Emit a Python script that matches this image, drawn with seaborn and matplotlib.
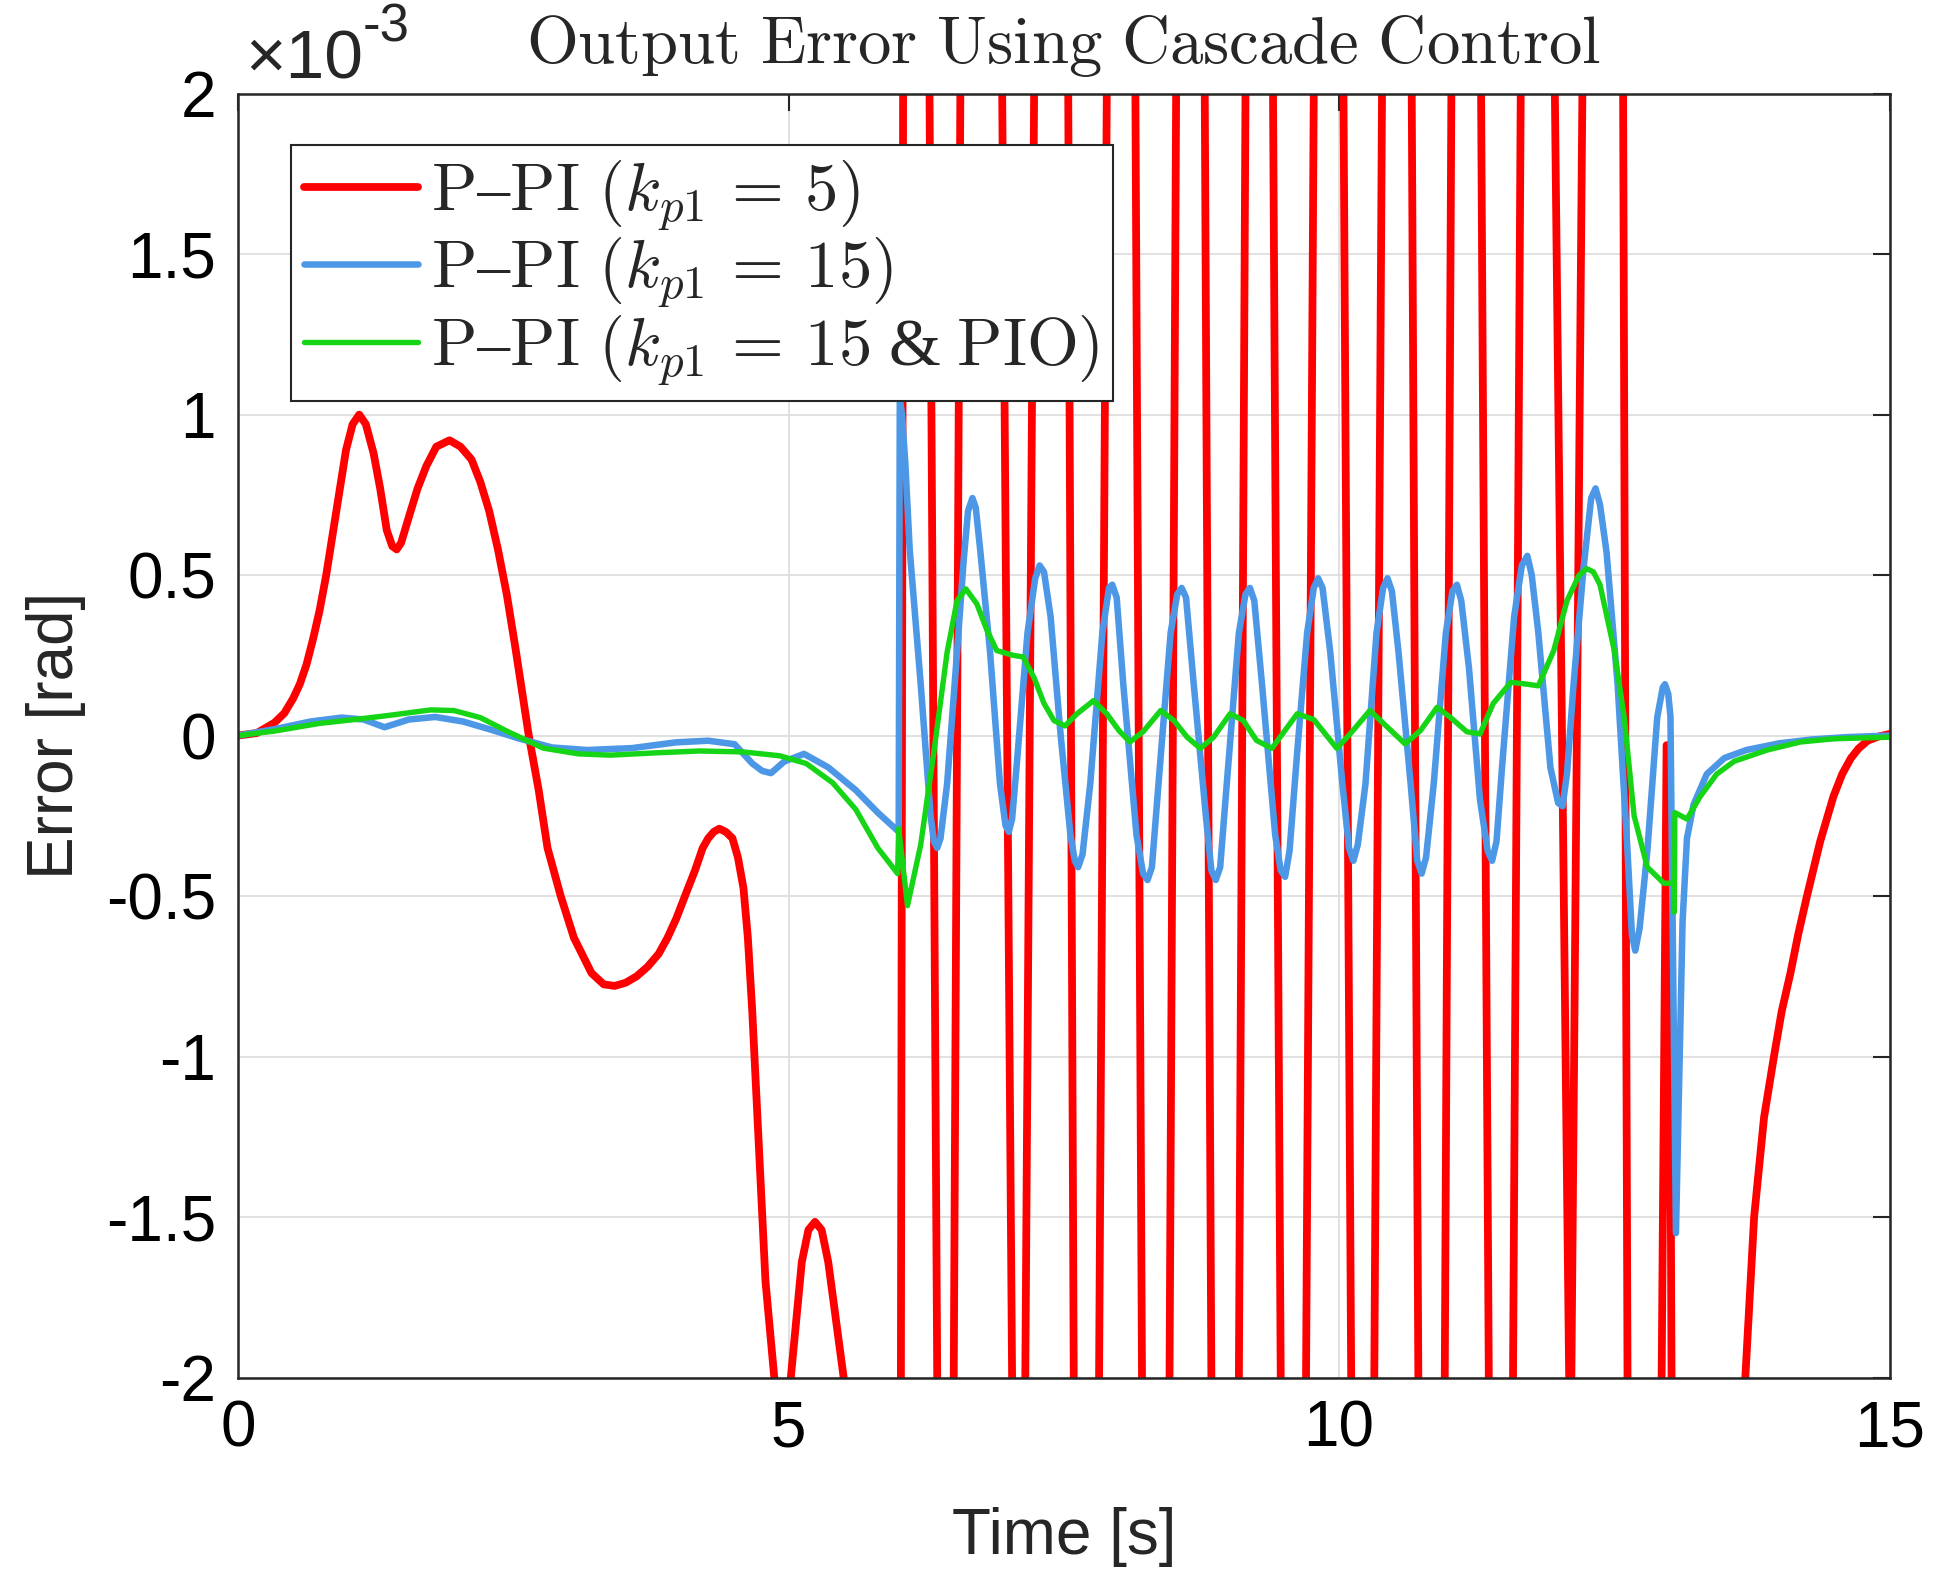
import numpy as np
import pandas as pd
import matplotlib
matplotlib.use("Agg")
import matplotlib.pyplot as plt
import seaborn as sns
from matplotlib.ticker import FuncFormatter

# error values in units of 1e-3 rad
red_t = [0.0, 0.17, 0.33, 0.42, 0.50, 0.56, 0.62, 0.68, 0.74, 0.80, 0.86, 0.92, 0.98, 1.04,
         1.10, 1.16, 1.23, 1.29, 1.35, 1.40, 1.44, 1.48, 1.55, 1.63, 1.71, 1.80, 1.92, 2.02,
         2.12, 2.20, 2.28, 2.36, 2.44, 2.52, 2.60, 2.64, 2.73, 2.81, 2.93, 3.05,
         3.21, 3.32, 3.42, 3.52, 3.62, 3.72, 3.82, 3.90, 3.98, 4.07, 4.15, 4.22, 4.27, 4.32,
         4.37, 4.43, 4.49, 4.54, 4.59, 4.63, 4.67, 4.73,
         4.79, 4.87, 4.95, 5.02, 5.12, 5.18, 5.24, 5.30, 5.36, 5.50, 5.75,
         6.02, 6.04, 6.16, 6.28, 6.35, 6.43, 6.50, 6.56, 6.75, 6.94, 7.03, 7.09, 7.15, 7.23,
         7.38, 7.54, 7.59, 7.70, 7.82, 7.89, 8.02, 8.15, 8.21, 8.33, 8.46, 8.52, 8.65, 8.78,
         8.84, 8.96, 9.09, 9.15, 9.27, 9.40, 9.47, 9.58, 9.70, 9.77, 9.90, 10.04, 10.11,
         10.21, 10.32, 10.39, 10.52, 10.66, 10.72, 10.84, 10.96, 11.02, 11.15, 11.29, 11.36,
         11.47, 11.58, 11.65, 11.80, 11.96, 12.09, 12.10, 12.11, 12.21, 12.40, 12.58, 12.62,
         12.78, 12.93, 12.975, 12.995, 13.02, 13.30, 13.60,
         13.69, 13.77, 13.86, 13.95, 14.02, 14.10, 14.17, 14.25, 14.37, 14.49, 14.57, 14.65,
         14.72, 14.80, 14.90, 15.0]
red_e = [0.0, 0.008, 0.04, 0.07, 0.116, 0.16, 0.22, 0.30, 0.39, 0.50, 0.63, 0.76, 0.89, 0.97,
         1.0, 0.97, 0.88, 0.77, 0.64, 0.59, 0.58, 0.60, 0.68, 0.77, 0.84, 0.90, 0.92, 0.90,
         0.86, 0.79, 0.70, 0.58, 0.44, 0.27, 0.09, 0.0, -0.17, -0.35, -0.50, -0.63,
         -0.74, -0.775, -0.78, -0.77, -0.75, -0.72, -0.68, -0.63, -0.57, -0.49, -0.42, -0.35,
         -0.32, -0.30, -0.29, -0.30, -0.32, -0.38, -0.475, -0.63, -0.86, -1.28,
         -1.70, -2.0, -2.3, -2.0, -1.64, -1.54, -1.515, -1.54, -1.64, -2.0, -4.0,
         -2.0, 2.0, 4.0, 2.0, -2.0, -4.0, -2.0, 2.0, 4.0, 2.0, -2.0, -4.0, -2.0, 2.0,
         4.0, 2.0, -2.0, -4.0, -2.0, 2.0, 4.0, 2.0, -2.0, -4.0, -2.0, 2.0, 4.0, 2.0,
         -2.0, -4.0, -2.0, 2.0, 4.0, 2.0, -2.0, -4.0, -2.0, 2.0, 4.0, 2.0, -2.0,
         -4.0, -2.0, 2.0, 4.0, 2.0, -2.0, -4.0, -2.0, 2.0, 4.0, 2.0, -2.0,
         -4.0, -2.0, 2.0, 4.0, 2.0, -2.0, -2.15, -2.0, 2.0, 4.0, 2.0, -2.0,
         -4.0, -2.0, -0.03, -0.03, -2.0, -4.0, -2.6,
         -2.0, -1.5, -1.19, -1.0, -0.86, -0.74, -0.62, -0.5, -0.33, -0.19, -0.12, -0.07,
         -0.04, -0.016, -0.003, 0.005]

blue_t = [0.0, 0.33, 0.66, 0.94, 1.14, 1.33, 1.55, 1.79, 2.04, 2.28, 2.56, 2.85, 3.17, 3.58,
          3.98, 4.27, 4.51, 4.67, 4.76, 4.84, 4.96, 5.14, 5.36, 5.61, 5.81, 5.97, 6.0, 6.01,
          6.03, 6.06, 6.10, 6.20, 6.29, 6.32, 6.35, 6.38, 6.44, 6.53, 6.59, 6.63, 6.67, 6.70,
          6.74, 6.83, 6.92, 6.97, 7.00, 7.03, 7.07, 7.17, 7.24, 7.28, 7.32, 7.38, 7.47, 7.56,
          7.60, 7.63, 7.67, 7.74, 7.85, 7.91, 7.94, 7.98, 8.04, 8.16, 8.22, 8.26, 8.30, 8.36,
          8.47, 8.53, 8.57, 8.61, 8.68, 8.79, 8.84, 8.88, 8.92, 8.98, 9.09, 9.15, 9.19, 9.23,
          9.30, 9.42, 9.47, 9.51, 9.55, 9.62, 9.71, 9.77, 9.81, 9.85, 9.92, 10.03, 10.09,
          10.13, 10.17, 10.24, 10.34, 10.40, 10.44, 10.48, 10.54, 10.65, 10.71, 10.75, 10.79,
          10.86, 10.97, 11.03, 11.07, 11.11, 11.18, 11.28, 11.35, 11.39, 11.43, 11.48, 11.59,
          11.66, 11.71, 11.75, 11.81, 11.92, 11.99, 12.03, 12.07, 12.13, 12.22, 12.29, 12.33,
          12.37, 12.43, 12.53, 12.62, 12.66, 12.69, 12.73, 12.80, 12.89, 12.94, 12.96, 12.99,
          13.01, 13.06, 13.12, 13.16, 13.22, 13.34, 13.5, 13.7, 14.0, 14.3, 14.6, 15.0]
blue_e = [0.0, 0.02, 0.044, 0.056, 0.05, 0.026, 0.05, 0.058, 0.044, 0.02, -0.01, -0.037,
          -0.045, -0.039, -0.021, -0.016, -0.027, -0.087, -0.11, -0.117, -0.081, -0.057,
          -0.099, -0.17, -0.24, -0.29, -0.30, 1.05, 1.0, 0.85, 0.58, 0.16, -0.25, -0.33,
          -0.35, -0.32, -0.15, 0.26, 0.545, 0.70, 0.74, 0.71, 0.58, 0.26, -0.15, -0.28, -0.30,
          -0.26, -0.10, 0.32, 0.49, 0.53, 0.51, 0.37, 0.005, -0.31, -0.39, -0.41, -0.37, -0.15,
          0.32, 0.46, 0.47, 0.43, 0.16, -0.31, -0.43, -0.45, -0.41, -0.15, 0.32, 0.44, 0.46,
          0.43, 0.16, -0.25, -0.42, -0.45, -0.41, -0.15, 0.32, 0.44, 0.46, 0.42, 0.16, -0.31,
          -0.42, -0.44, -0.36, -0.05, 0.32, 0.46, 0.49, 0.46, 0.26, -0.15, -0.35, -0.39,
          -0.34, -0.15, 0.32, 0.46, 0.49, 0.45, 0.26, -0.15, -0.39, -0.43, -0.38, -0.15, 0.32,
          0.45, 0.47, 0.42, 0.21, -0.20, -0.36, -0.39, -0.33, -0.10, 0.37, 0.53, 0.56, 0.50,
          0.32, -0.10, -0.21, -0.22, -0.12, 0.16, 0.52, 0.74, 0.77, 0.72, 0.57, 0.16, -0.36,
          -0.62, -0.67, -0.60, -0.36, 0.057, 0.15, 0.16, 0.13, 0.06, -1.55, -0.58, -0.32,
          -0.215, -0.12, -0.07, -0.045, -0.024, -0.012, -0.005, 0.0]

green_t = [0.0, 0.33, 0.74, 1.06, 1.35, 1.75, 1.96, 2.20, 2.44, 2.77, 3.09, 3.38, 3.78, 4.19,
           4.59, 4.92, 5.16, 5.40, 5.61, 5.81, 5.99, 6.00, 6.08, 6.20, 6.32, 6.44, 6.53, 6.61,
           6.71, 6.80, 6.89, 7.04, 7.13, 7.23, 7.32, 7.41, 7.51, 7.62, 7.77, 7.89, 8.00, 8.10,
           8.22, 8.38, 8.50, 8.62, 8.74, 8.86, 9.01, 9.13, 9.25, 9.39, 9.53, 9.62, 9.77, 9.98,
           10.10, 10.28, 10.44, 10.60, 10.74, 10.89, 11.01, 11.16, 11.28, 11.40, 11.56, 11.71,
           11.81, 11.95, 12.07, 12.18, 12.25, 12.31, 12.37, 12.50, 12.59, 12.68, 12.80, 12.95,
           13.04, 13.045, 13.05, 13.16, 13.28, 13.43, 13.59, 13.89, 14.19, 14.49, 15.0]
green_e = [0.0, 0.014, 0.038, 0.05, 0.062, 0.08, 0.078, 0.056, 0.014, -0.039, -0.057, -0.061,
           -0.054, -0.048, -0.051, -0.063, -0.087, -0.147, -0.23, -0.35, -0.43, -0.29, -0.53,
           -0.34, -0.05, 0.26, 0.42, 0.457, 0.41, 0.33, 0.265, 0.25, 0.245, 0.18, 0.10, 0.047,
           0.03, 0.068, 0.109, 0.068, 0.016, -0.02, 0.012, 0.078, 0.047, -0.005, -0.04, -0.005,
           0.068, 0.047, -0.015, -0.04, 0.026, 0.068, 0.05, -0.04, 0.005, 0.078, 0.026, -0.026,
           0.016, 0.088, 0.057, 0.012, 0.005, 0.10, 0.166, 0.16, 0.155, 0.265, 0.42, 0.50,
           0.52, 0.51, 0.47, 0.265, 0.057, -0.25, -0.41, -0.46, -0.46, -0.55, -0.24, -0.26,
           -0.19, -0.12, -0.08, -0.045, -0.02, -0.01, -0.005]

labels = [r'$\mathrm{P–PI}\ (k_{p1}\,=\,5)$',
          r'$\mathrm{P–PI}\ (k_{p1}\,=\,15)$',
          r'$\mathrm{P–PI}\ (k_{p1}\,=\,15$ & $\mathrm{PIO})$']
colors = ['#ff0000', '#4d98e6', '#16d416']
widths = [5.6, 4.7, 3.9]

sns.set_theme(style="white")
plt.rcParams['font.family'] = ['Liberation Sans Narrow', 'Liberation Sans', 'DejaVu Sans']
plt.rcParams['mathtext.fontset'] = 'cm'
plt.rcParams['axes.unicode_minus'] = False

fig = plt.figure(figsize=(19.36, 15.87), dpi=100)
ax = fig.add_axes([0.123, 0.132, 0.853, 0.809])

series = [(red_t, red_e), (blue_t, blue_e), (green_t, green_e)]
for (t, e), lab, col, lw in zip(series, labels, colors, widths):
    df = pd.DataFrame({'t': t, 'e': e})
    sns.lineplot(data=df, x='t', y='e', ax=ax, color=col, linewidth=lw,
                 label=lab, sort=False, estimator=None)

ax.set_xlim(0, 15)
ax.set_ylim(-2, 2)
ax.set_xticks([0, 5, 10, 15])
ax.set_yticks(np.arange(-2, 2.01, 0.5))
ax.yaxis.set_major_formatter(FuncFormatter(lambda v, p: '%g' % v))
ax.xaxis.set_major_formatter(FuncFormatter(lambda v, p: '%g' % v))
ax.grid(True, color='#dcdcdc', linewidth=1.2)
ax.tick_params(direction='in', length=12, width=1.5, colors='#262626', labelcolor='black',
               labelsize=46, top=True, right=True, pad=16)
for s in ax.spines.values():
    s.set_linewidth(1.8)
    s.set_color('#262626')

ax.set_xlabel('Time [s]', fontsize=46, labelpad=34)
ax.set_ylabel('Error [rad]', fontsize=46, labelpad=14)
ax.set_title(r'$\mathrm{Output\ Error\ Using\ Cascade\ Control}$', fontsize=48, pad=22)

base = ax.text(0.004, 1.012, '\u00d710', transform=ax.transAxes, fontsize=50,
               ha='left', va='baseline')
ax.annotate('-3', xy=(1.0, 0.62), xycoords=base, fontsize=38, ha='left', va='bottom')

leg = ax.legend(loc='upper left', bbox_to_anchor=(0.032, 0.960), borderaxespad=0,
                prop={'family': 'Liberation Serif', 'size': 48}, frameon=True,
                fancybox=False, framealpha=1, edgecolor='#262626', handlelength=1.7,
                handletextpad=0.2, borderpad=0.2, labelspacing=0.05)
leg.get_frame().set_linewidth(1.5)

fig.savefig('out.png', dpi=100)
